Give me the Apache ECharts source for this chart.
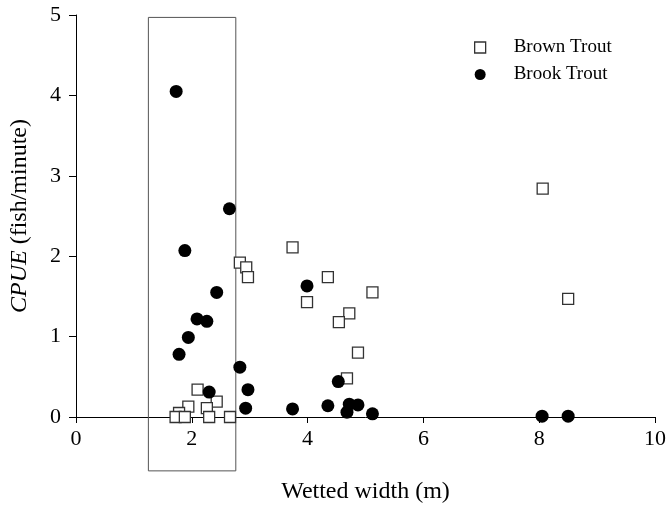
<!DOCTYPE html>
<html><head><meta charset="utf-8">
<script src="https://cdn.jsdelivr.net/npm/echarts@6/dist/echarts.min.js"></script>
<style>html,body{margin:0;padding:0;background:#fff}#c{width:669px;height:509px}</style>
</head><body><div id="c"></div>
<script>
const xTicks = [0, 2, 4, 6, 8, 10];
const yTicks = [0, 1, 2, 3, 4, 5];
const brownTrout = [
  [8.06, 2.84], [3.74, 2.11], [2.83, 1.92], [2.94, 1.86], [2.97, 1.74], [4.35, 1.74],
  [5.12, 1.55], [8.50, 1.47], [3.99, 1.43], [4.72, 1.29], [4.54, 1.18], [4.87, 0.80],
  [4.68, 0.48], [2.10, 0.34], [2.43, 0.19], [1.94, 0.13], [2.26, 0.11], [1.78, 0.05],
  [1.72, 0.00], [1.88, 0.00], [2.30, 0.00], [2.66, 0.00]
];
const brookTrout = [
  [1.73, 4.05], [2.65, 2.59], [1.88, 2.07], [3.99, 1.63], [2.43, 1.55], [2.09, 1.22],
  [2.26, 1.19], [1.94, 0.99], [1.78, 0.78], [2.83, 0.62], [4.53, 0.44], [2.97, 0.34],
  [2.30, 0.31], [4.72, 0.16], [4.87, 0.15], [4.35, 0.14], [2.93, 0.11], [3.74, 0.10],
  [4.68, 0.06], [5.12, 0.04], [8.05, 0.01], [8.50, 0.01]
];
// highlighted range box: [xFrom, yFrom, xTo, yTo]
const boxRange = [[1.25, -0.67, 2.76, 4.97]];

const font = 'Liberation Serif';
const chart = echarts.init(document.getElementById('c'));
chart.setOption({
  animation: false,
  backgroundColor: '#fff',
  grid: { left: 74, right: 12, top: 15, bottom: 89, containLabel: false },
  legend: {
    orient: 'vertical', left: 469, top: 33, itemWidth: 11, itemHeight: 11, itemGap: 8,
    textStyle: { fontFamily: font, fontSize: 19, color: '#000', padding: [0, 0, 0, 23] },
    data: [
      { name: 'Brown Trout', icon: 'rect', itemStyle: { color: '#fff', borderColor: '#333', borderWidth: 1.3 } },
      { name: 'Brook Trout', icon: 'circle', itemStyle: { color: '#000' } }
    ]
  },
  xAxis: {
    type: 'value', min: xTicks[0], max: xTicks[xTicks.length - 1], interval: 2,
    name: 'Wetted width (m)', nameLocation: 'middle', nameGap: 63,
    nameTextStyle: { fontFamily: font, fontSize: 24, color: '#000' },
    axisLine: { onZero: false, lineStyle: { color: '#000', width: 1 } },
    axisTick: { show: true, inside: false, length: 6, lineStyle: { color: '#000' } },
    axisLabel: { fontFamily: font, fontSize: 22, color: '#000', margin: 11 },
    splitLine: { show: false }
  },
  yAxis: {
    type: 'value', min: yTicks[0], max: yTicks[yTicks.length - 1], interval: 1,
    name: '{i|CPUE} (fish/minute)', nameLocation: 'middle', nameGap: 44,
    nameTextStyle: { fontFamily: font, fontSize: 24, color: '#000',
      rich: { i: { fontFamily: font, fontSize: 24, fontStyle: 'italic', color: '#000' } } },
    axisLine: { show: true, lineStyle: { color: '#000', width: 1 } },
    axisTick: { show: true, inside: false, length: 7, lineStyle: { color: '#000' } },
    axisLabel: { fontFamily: font, fontSize: 22, color: '#000', margin: 15 },
    splitLine: { show: false }
  },
  series: [
    {
      type: 'custom', name: 'box', silent: true, clip: false, z: 1,
      renderItem: function (params, api) {
        const p0 = api.coord([api.value(0), api.value(3)]);
        const p1 = api.coord([api.value(2), api.value(1)]);
        return {
          type: 'rect',
          shape: { x: p0[0], y: p0[1], width: p1[0] - p0[0], height: p1[1] - p0[1] },
          style: { fill: 'none', stroke: '#555', lineWidth: 1 }
        };
      },
      encode: { x: [0, 2], y: [1, 3] },
      data: boxRange
    },
    {
      type: 'scatter', name: 'Brown Trout', symbol: 'rect', symbolSize: 11, clip: false, z: 3,
      itemStyle: { color: '#fff', borderColor: '#333', borderWidth: 1.3, opacity: 1 },
      data: brownTrout
    },
    {
      type: 'scatter', name: 'Brook Trout', symbol: 'circle', symbolSize: 13, clip: false, z: 4,
      itemStyle: { color: '#000', opacity: 1 },
      data: brookTrout
    }
  ]
});
</script></body></html>
